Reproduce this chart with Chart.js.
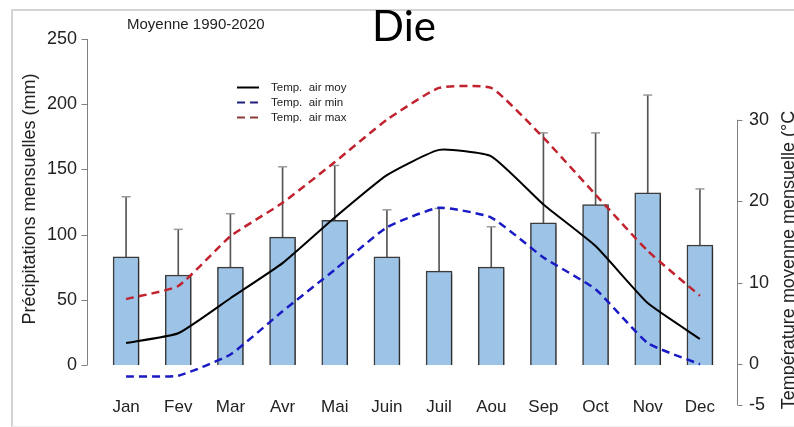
<!DOCTYPE html>
<html>
<head>
<meta charset="utf-8">
<script src="https://cdn.jsdelivr.net/npm/chart.js@4"></script>
<style>
  html, body { margin: 0; padding: 0; background: #fff; overflow: hidden; }
  #wrap { position: relative; width: 794px; height: 427px; font-family: "Liberation Sans", Arial, sans-serif; color: #222; }
  #frame { position: absolute; left: 11px; top: 9px; width: 800px; height: 415px; border-left: 2px solid #d4d4d4; border-top: 2px solid #d4d4d4; border-bottom: 1px solid #eee; }
  canvas { position: absolute; left: 0; top: 0; }
  .txt { position: absolute; white-space: pre; }
  .rot { position: absolute; width: 360px; height: 18px; line-height: 18px; font-size: 18px; text-align: center; white-space: pre; transform: rotate(-90deg); }
  .leg { position: absolute; left: 237px; height: 14px; line-height: 14px; font-size: 11.5px; white-space: pre; color: #222; }
  .leg svg { position: absolute; left: 0; top: 6px; }
  .leg span { position: absolute; left: 34px; top: 0; }
</style>
</head>
<body>
<div id="wrap">
  <div id="frame"></div>
  <canvas id="climate-chart" width="794" height="427"></canvas>
  <div class="txt" style="left:127px; top:15.5px; font-size:15px; line-height:15px;">Moyenne 1990-2020</div>
  <div class="txt" style="left:304px; width:200px; text-align:center; top:4px; font-family:Lato, 'Open Sans', sans-serif; font-size:42px; line-height:42px; color:#000;">Die</div>
  <div class="rot" style="left:-151px; top:190px;">Précipitations mensuelles (mm)</div>
  <div class="rot" style="left:608px; top:251px;">Température moyenne mensuelle (°C</div>
  <div id="legend"></div>
</div>

<script>
const months = ["Jan", "Fev", "Mar", "Avr", "Mai", "Juin", "Juil", "Aou", "Sep", "Oct", "Nov", "Dec"];
const precip = [83, 69, 75, 98, 111, 83, 72, 75, 109, 123, 132, 92];
const precipUpper = [129, 104, 116, 152, 153, 119, 120, 106, 178, 178, 207, 135];
const tempMoy = [2.6, 3.8, 8.1, 12.4, 18.0, 23.2, 26.3, 25.5, 19.6, 14.5, 7.5, 3.1];
const tempMin = [-1.5, -1.4, 1.2, 6.5, 11.6, 16.8, 19.2, 18.0, 13.1, 9.2, 2.6, 0];
const tempMax = [8.0, 9.6, 15.7, 19.8, 24.8, 30.0, 33.9, 33.9, 27.8, 20.8, 13.9, 8.4];
const precipTicks = [0, 50, 100, 150, 200, 250];
const tempTicks = [-5, 0, 10, 20, 30];

// legend (html, only the three temperature curves)
const legendItems = [
  { label: "Temp.  air moy", color: "#000", dash: "" },
  { label: "Temp.  air min", color: "#20207a", dash: "8,5" },
  { label: "Temp.  air max", color: "#8a3b3b", dash: "8,5" }
];
const legendTops = [80, 95, 110];
legendItems.forEach((it, i) => {
  const d = document.createElement("div");
  d.className = "leg";
  d.style.top = legendTops[i] + "px";
  d.innerHTML = '<svg width="22" height="3"><line x1="0" y1="1.5" x2="22" y2="1.5" stroke="' + it.color +
    '" stroke-width="2" stroke-dasharray="' + it.dash + '"/></svg><span>' + it.label + '</span>';
  document.getElementById("legend").appendChild(d);
});

// axis lines limited to the tick range, offset from the plot area
const axisLines = {
  id: "axisLines",
  afterDraw(chart) {
    const ctx = chart.ctx, a = chart.chartArea;
    const yl = chart.scales.y, yr = chart.scales.yT;
    const xl = Math.round(a.left - 13) + 0.5, xr = Math.round(a.right + 11) + 0.5;
    ctx.save();
    ctx.strokeStyle = "#808080";
    ctx.lineWidth = 1;
    ctx.beginPath();
    ctx.moveTo(xl, yl.getPixelForValue(precipTicks[0]));
    ctx.lineTo(xl, yl.getPixelForValue(precipTicks[precipTicks.length - 1]));
    precipTicks.forEach(v => {
      const p = Math.round(yl.getPixelForValue(v)) + 0.5;
      ctx.moveTo(xl - 6, p); ctx.lineTo(xl, p);
    });
    ctx.moveTo(xr, yr.getPixelForValue(tempTicks[0]));
    ctx.lineTo(xr, yr.getPixelForValue(tempTicks[tempTicks.length - 1]));
    tempTicks.forEach(v => {
      const p = Math.round(yr.getPixelForValue(v)) + 0.5;
      ctx.moveTo(xr, p); ctx.lineTo(xr + 5, p);
    });
    ctx.stroke();
    ctx.restore();
  }
};

// soft drop shadow under the bars
const barShadow = {
  id: "barShadow",
  beforeDatasetDraw(chart, args) {
    if (args.index !== 3) return;
    const ctx = chart.ctx;
    ctx.save();
    ctx.shadowColor = "rgba(0,0,0,0.35)";
    ctx.shadowOffsetX = 2;
    ctx.shadowOffsetY = 2;
    ctx.shadowBlur = 3;
  },
  afterDatasetDraw(chart, args) {
    if (args.index !== 3) return;
    chart.ctx.restore();
  }
};

const tickFont = { family: "'Liberation Sans', Arial, sans-serif", size: 18 };

new Chart(document.getElementById("climate-chart"), {
  type: "bar",
  data: {
    labels: months,
    datasets: [
      {
        type: "line", label: "Temp. air moy", data: tempMoy, yAxisID: "yT",
        borderColor: "#000", borderWidth: 2, pointRadius: 0, tension: 0.15, order: 0
      },
      {
        type: "line", label: "Temp. air min", data: tempMin, yAxisID: "yT",
        borderColor: "#1a1ac4", borderWidth: 2.5, borderDash: [8, 5], pointRadius: 0, tension: 0.15, order: 0
      },
      {
        type: "line", label: "Temp. air max", data: tempMax, yAxisID: "yT",
        borderColor: "#c0222e", borderWidth: 2.5, borderDash: [8, 5], pointRadius: 0, tension: 0.15, order: 0
      },
      {
        type: "bar", label: "Précipitations", data: precip, yAxisID: "y",
        backgroundColor: "#9dc3e6", borderColor: "#3c3c3c", borderWidth: 1.5,
        barThickness: 26, grouped: false, order: 2
      },
      {
        type: "bar", label: "whisker", data: precip.map((v, i) => [v, precipUpper[i]]), yAxisID: "y",
        backgroundColor: "#555", borderWidth: 0, barThickness: 1, grouped: false, order: 3
      },
      {
        type: "line", label: "cap", data: precipUpper, yAxisID: "y",
        showLine: false, pointStyle: "line", pointRadius: 4.5, pointBorderColor: "#9a9a9a",
        pointBorderWidth: 1.5, order: 1
      }
    ]
  },
  options: {
    responsive: false,
    animation: false,
    layout: { padding: { top: 39, left: 0, right: 0, bottom: 0 } },
    plugins: {
      legend: { display: false },
      tooltip: { enabled: false },
      title: { display: false }
    },
    scales: {
      x: {
        grid: { display: false, drawTicks: false },
        border: { display: false },
        ticks: { color: "#222", mirror: true, padding: -12.5, font: { family: "'Liberation Sans', Arial, sans-serif", size: 17 } },
        afterFit(scale) { scale.height = 22; }
      },
      y: {
        position: "left",
        min: -30.7, max: 250,
        grid: { display: false, drawTicks: false },
        border: { display: false },
        ticks: { color: "#222", padding: 23, font: tickFont },
        afterBuildTicks(scale) { scale.ticks = precipTicks.map(v => ({ value: v })); },
        afterFit(scale) { scale.width = 100; scale.paddingTop = 10; scale.paddingBottom = 10; }
      },
      yT: {
        position: "right",
        min: -5, max: 39.9,
        grid: { display: false, drawTicks: false },
        border: { display: false },
        ticks: { color: "#222", padding: 23, font: tickFont },
        afterBuildTicks(scale) { scale.ticks = tempTicks.map(v => ({ value: v })); },
        afterFit(scale) { scale.width = 68; scale.paddingTop = 10; scale.paddingBottom = 10; }
      }
    }
  },
  plugins: [axisLines, barShadow]
});
</script>
</body>
</html>
